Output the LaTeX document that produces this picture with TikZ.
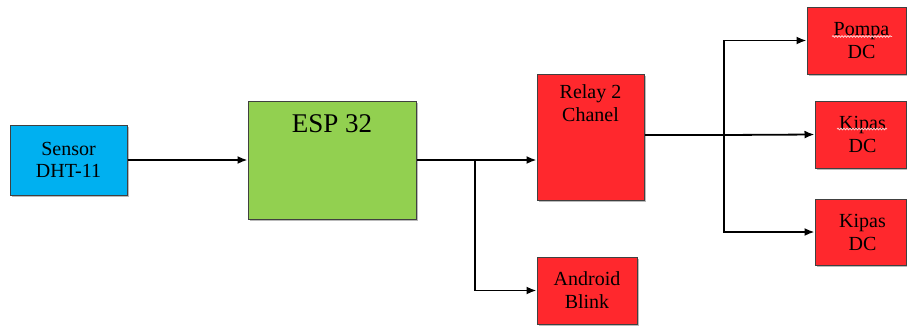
\documentclass[tikz,border=0pt]{standalone}
\usepackage{fontspec}
\setmainfont{Liberation Serif}
\usetikzlibrary{arrows.meta,shadows,decorations.pathmorphing,calc}
\definecolor{boxred}{RGB}{255,40,45}
\definecolor{boxgreen}{RGB}{146,208,80}
\definecolor{boxcyan}{RGB}{0,176,240}
\definecolor{squigcol}{RGB}{255,205,205}
\begin{document}
\begin{tikzpicture}[x=1pt,y=-1pt,
  blk/.style={draw=black!75, line width=1pt, inner sep=0pt, align=center,
    font=\fontsize{20}{23}\selectfont,
    drop shadow={shadow xshift=1.5pt, shadow yshift=-1.5pt, fill=black!45, opacity=0.6}},
  lbl/.style={inner sep=0pt, align=center, font=\fontsize{20}{23}\selectfont},
  conn/.style={line width=1.8pt, -{Latex[length=10pt,width=8pt]}},
  wire/.style={line width=1.8pt},
  squig/.style={squigcol, line width=0.8pt, decorate, decoration={snake, segment length=3pt, amplitude=0.8pt}}]
\useasboundingbox (0,0) rectangle (907,327);
\node[blk, fill=boxcyan, minimum width=117pt, minimum height=70pt] (sensor) at (68.5,160) {Sensor\\[-1pt]DHT-11};
\node[blk, fill=boxgreen, minimum width=168pt, minimum height=118pt] (esp) at (332,160) {};
\node[lbl, anchor=base, font=\fontsize{27}{31}\selectfont] (esptxt) at ($(esp.north)+(0,32)$) {ESP 32};
\node[blk, fill=boxred, minimum width=107pt, minimum height=126pt] (relay) at (590.5,137) {};
\node[lbl, anchor=north] (relaytxt) at ($(relay.north)+(0,11)$) {Relay 2\\Chanel};
\node[blk, fill=boxred, minimum width=100pt, minimum height=67pt] (android) at (587,290.5) {Android\\Blink};
\node[blk, fill=boxred, minimum width=99pt, minimum height=67pt] (pompa) at (856.5,40.5) {};
\node[lbl] (pompatxt) at ($(pompa.center)+(5,0)$) {Pompa\\DC};
\node[blk, fill=boxred, minimum width=91pt, minimum height=67pt] (kipasa) at (860.5,134.5) {};
\node[lbl] (kipasatxt) at ($(kipasa.center)+(2,0)$) {Kipas\\DC};
\node[blk, fill=boxred, minimum width=91pt, minimum height=66pt] (kipasb) at (860.5,232) {};
\node[lbl] (kipasbtxt) at ($(kipasb.center)+(2,0)$) {Kipas\\DC};
\coordinate (b1) at (475,160);
\coordinate (b2) at (724,135);
\coordinate (rout) at (relay.east |- b2);
\draw[conn] (sensor.east) -- (sensor.east -| esp.west);
\draw[conn] (esp.east |- b1) -- (b1 -| relay.west);
\draw[conn] (b1) |- (android.west);
\draw[wire] (rout) -- (b2);
\draw[conn] (b2) -- (kipasa.west);
\draw[conn] (b2) |- (pompa.west);
\draw[conn] (b2) |- (kipasb.west);
\draw[squig] (832,36.5) -- (892,36.5);
\draw[squig] (837,129) -- (887,129);
\end{tikzpicture}
\end{document}
